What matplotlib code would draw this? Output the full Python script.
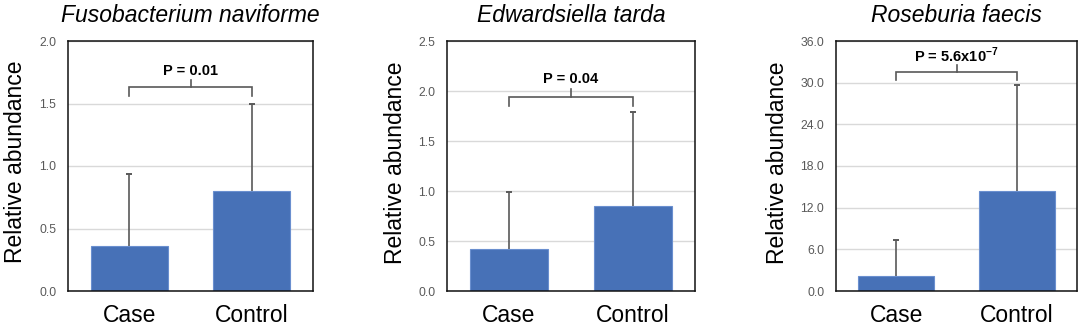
import matplotlib
matplotlib.use("Agg")
import matplotlib.pyplot as plt
import numpy as np

plt.rcParams['font.family'] = ['Liberation Sans', 'DejaVu Sans']
plt.rcParams['mathtext.fontset'] = 'custom'
plt.rcParams['mathtext.rm'] = 'Liberation Sans'
plt.rcParams['mathtext.bf'] = 'Liberation Sans:bold'

# ---- data ----
categories = ["Case", "Control"]
titles = ["Fusobacterium naviforme", "Edwardsiella tarda", "Roseburia faecis"]
means_fuso = [0.36, 0.80]
sd_fuso = [0.58, 0.70]
means_edw = [0.42, 0.855]
sd_edw = [0.57, 0.935]
means_ros = [2.2, 14.45]
sd_ros = [5.1, 15.25]
p_labels = ["P = 0.01", "P = 0.04", r"P = 5.6x10$^{\mathbf{-7}}$"]
yticks_fuso = [0.0, 0.5, 1.0, 1.5, 2.0]
yticks_edw = [0.0, 0.5, 1.0, 1.5, 2.0, 2.5]
yticks_ros = [0.0, 6.0, 12.0, 18.0, 24.0, 30.0, 36.0]
# bracket levels: (bracket y, leg bottom, tick top, text y)
bracket_fuso = (1.63, 1.56, 1.69, 1.76)
bracket_edw = (1.94, 1.855, 2.02, 2.12)
bracket_ros = (31.6, 30.35, 32.6, 34.0)

W, H = 1084, 327
fig = plt.figure(figsize=(W / 100, H / 100), dpi=100)

panels = [
    (means_fuso, sd_fuso, yticks_fuso, bracket_fuso, (68, 313), (15.5, 162)),
    (means_edw, sd_edw, yticks_edw, bracket_edw, (447, 695), (395.5, 163)),
    (means_ros, sd_ros, yticks_ros, bracket_ros, (836, 1077), (777, 162.5)),
]
top_px, bot_px = 41, 291

bar_color = '#4771B7'
edge_color = '#6A8FCF'
gray = '#595959'

for i, (means, sds, yt, br, (xl, xr), (lx, ly)) in enumerate(panels):
    ax = fig.add_axes([xl / W, (H - bot_px) / H, (xr - xl) / W, (bot_px - top_px) / H])
    x = np.arange(len(categories))
    means = np.asarray(means)
    tops = means + np.asarray(sds)
    ax.bar(x, means, width=0.63, color=bar_color, edgecolor=edge_color,
           linewidth=0.8, zorder=2)
    ax.vlines(x, means, tops, color=gray, linewidth=1.2, zorder=3)
    ax.plot(x, tops, linestyle='none', marker='_', markersize=4.5,
            markeredgewidth=1.4, color=gray, zorder=3)
    ax.set_xlim(-0.5, 1.5)
    ax.set_ylim(yt[0], yt[-1])
    ax.set_yticks(yt)
    ax.set_yticklabels([f"{v:.1f}" for v in yt], fontsize=8.8, color=gray)
    ax.set_xticks(x)
    ax.set_xticklabels(categories, fontsize=16.5, color='black')
    ax.tick_params(axis='y', length=0, pad=8.5)
    ax.tick_params(axis='x', length=0, pad=9.5)
    ax.yaxis.grid(True, color='#d9d9d9', linewidth=1.0, zorder=0)
    ax.set_axisbelow(True)
    for s in ax.spines.values():
        s.set_color('#111111')
        s.set_linewidth(1.1)
    ax.set_title(titles[i], fontsize=16.5, style='italic', pad=13.5)
    # bracket
    by, leg, tk, ty = br
    ax.plot([x[0], x[0], x[1], x[1]], [leg, by, by, leg], color=gray,
            linewidth=1.2, zorder=4, solid_joinstyle='miter')
    ax.plot([0.5 * (x[0] + x[1])] * 2, [by, tk], color=gray, linewidth=1.2, zorder=4)
    ax.text(0.5 * (x[0] + x[1]), ty, p_labels[i], ha='center', va='center',
            fontsize=10.5, fontweight='bold', zorder=5)
    fig.text(lx / W, 1 - ly / H, "Relative abundance", rotation=90,
             ha='center', va='center', fontsize=16.5)

fig.savefig("out.png", dpi=100)
